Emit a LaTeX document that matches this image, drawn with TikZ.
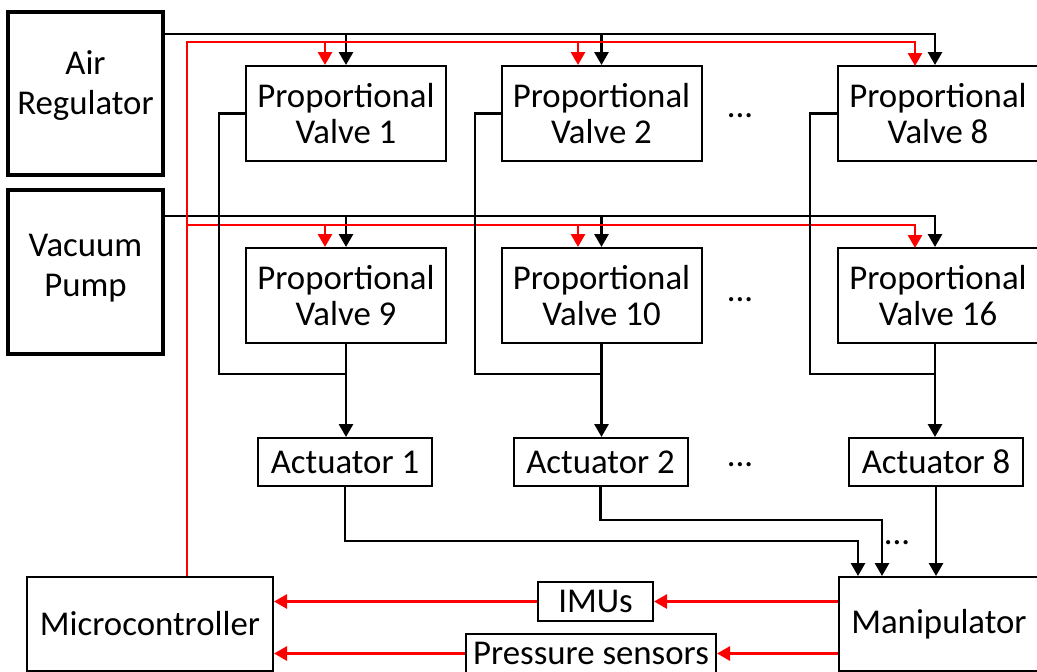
\documentclass[tikz,border=0pt]{standalone}
\usepackage{fontspec}
\setmainfont{Carlito}
\usetikzlibrary{arrows.meta}
\begin{document}
\begin{tikzpicture}[x=0.5pt,y=-0.5pt,
  box/.style={draw,line width=1pt,inner sep=0pt,align=center,font=\fontsize{17.4}{18}\selectfont},
  thickbox/.style={draw,line width=2pt,inner sep=0pt},
  srctext/.style={align=center,font=\fontsize{17.4}{20}\selectfont},
  valvebox/.style={box,minimum width=100pt,minimum height=47.5pt},
  actbox/.style={box,minimum width=87pt,minimum height=24pt},
  dots/.style={inner sep=0pt,font=\fontsize{17.4}{18}\selectfont},
  ln/.style={line width=1.4pt},
  arr/.style={ln,-{Triangle[length=6.5pt,width=7pt]}},
  rln/.style={ln,red},
  rarr/.style={arr,red}]
\useasboundingbox (0,0) rectangle (1037,671);

% sources
\node[thickbox,minimum width=77.5pt,minimum height=81.5pt,
  label={[srctext,yshift=4pt]center:Air\\Regulator}] (air) at (85.5,93.5) {};
\node[thickbox,minimum width=77.5pt,minimum height=82pt,
  label={[srctext,yshift=2pt]center:Vacuum\\Pump}] (vac) at (85.5,272) {};

% valves
\node[valvebox] (v1) at (346,113.5) {Proportional\\Valve 1};
\node[valvebox] (v2) at (601.5,113.5) {Proportional\\Valve 2};
\node[valvebox] (v8) at (938,113.5) {Proportional\\Valve 8};
\node[valvebox] (v9) at (346,295.5) {Proportional\\Valve 9};
\node[valvebox] (v10) at (601.5,295.5) {Proportional\\Valve 10};
\node[valvebox] (v16) at (938,295.5) {Proportional\\Valve 16};

% actuators
\node[actbox] (a1) at (345,462) {Actuator 1};
\node[actbox] (a2) at (600.5,462) {Actuator 2};
\node[actbox] (a8) at (936,462) {Actuator 8};

% bottom row
\node[box,minimum width=123pt,minimum height=47pt] (mc) at (150,623.5) {Microcontroller};
\node[box,minimum width=100pt,minimum height=47pt] (man) at (939,624) {Manipulator};
\node[box,minimum width=57.5pt,minimum height=19.5pt] (imu) at (595.5,601.5) {IMUs};
\node[box,minimum width=125pt,minimum height=19.5pt] (ps) at (591,653.5) {Pressure sensors};

% dots
\node[dots] (d1) at (740,116) {...};
\node[dots] (d2) at (740,300) {...};
\node[dots] (d3) at (740,465) {...};
\node[dots] (d4) at (897,543) {...};

% helper coordinates
\coordinate (yb1) at (0,34);
\coordinate (yr1) at (0,42);
\coordinate (yb2) at (0,216);
\coordinate (yr2) at (0,225);
\coordinate (rx) at (187,0);
\coordinate (b8) at (935,0);
\coordinate (r1) at ([xshift=-10.5pt]v1.north);
\coordinate (r2) at ([xshift=-11.75pt]v2.north);
\coordinate (r8) at (915,66);
\coordinate (r9) at ([xshift=-10.5pt]v9.north);
\coordinate (r10) at ([xshift=-11.75pt]v10.north);
\coordinate (r16) at (915,248);
\coordinate (fb1) at (219,374);
\coordinate (fb2) at (475,374);
\coordinate (fb8) at (810,374);
\coordinate (j1) at (858,541);
\coordinate (j2) at (882,520);

% air supply (black)
\draw[arr] (air.east |- yb1) -| (b8 |- v8.north);
\draw[arr] (v1.north |- yb1) -- (v1.north);
\draw[arr] (v2.north |- yb1) -- (v2.north);
% vacuum supply (black)
\draw[arr] (vac.east |- yb2) -| (b8 |- v16.north);
\draw[arr] (v9.north |- yb2) -- (v9.north);
\draw[arr] (v10.north |- yb2) -- (v10.north);

% control signals (red)
\draw[rarr] (mc.north -| rx) |- (r8 |- yr1) -- (r8);
\draw[rarr] (r1 |- yr1) -- (r1);
\draw[rarr] (r2 |- yr1) -- (r2);
\draw[rarr] (rx |- yr2) -| (r16);
\draw[rarr] (r9 |- yr2) -- (r9);
\draw[rarr] (r10 |- yr2) -- (r10);

% valve outputs to actuators
\draw[ln] (v1.west) -| (fb1) -- (fb1 -| v9.south);
\draw[ln] (v2.west) -| (fb2) -- (fb2 -| v10.south);
\draw[ln] (v8.west) -| (fb8) -- (fb8 -| b8);
\draw[arr] (v9.south) -- (v9.south |- a1.north);
\draw[arr] (v10.south) -- (v10.south |- a2.north);
\draw[arr] (b8 |- v16.south) -- (b8 |- a8.north);

% actuators to manipulator
\draw[arr] (a1.south) |- (j1) -- (j1 |- man.north);
\draw[arr] (a2.south) |- (j2) -- (j2 |- man.north);
\draw[arr] (a8.south) -- (a8.south |- man.north);

% sensor feedback (red)
\draw[rarr] (man.west |- imu) -- (imu.east);
\draw[rarr] (imu.west) -- (imu.west -| mc.east);
\draw[rarr] (man.west |- ps) -- (ps.east);
\draw[rarr] (ps.west) -- (ps.west -| mc.east);
\end{tikzpicture}
\end{document}
